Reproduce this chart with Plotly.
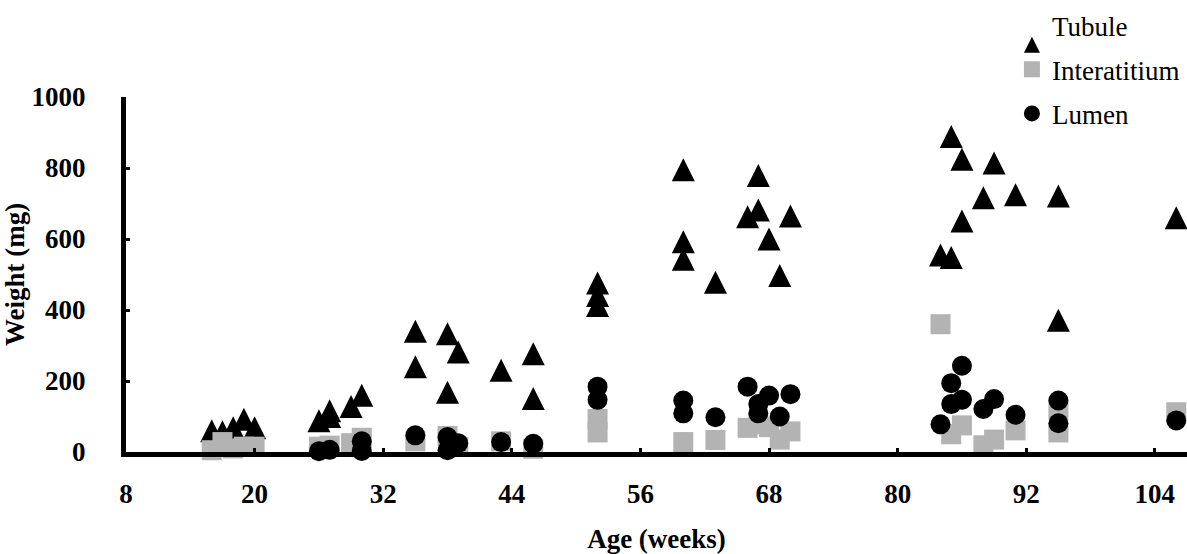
import plotly.graph_objects as go

# Tissue compartment weights (mg) by age (weeks)
tubule_age = [16, 17, 18, 19, 20, 26, 27, 27, 29, 30,
              35, 35, 38, 38, 39, 43, 46, 46,
              52, 52, 52, 60, 60, 60, 63,
              66, 67, 67, 68, 69, 70,
              84, 85, 85, 86, 86, 88, 89, 91, 95, 95, 106]
tubule_wt = [60, 57, 68, 92, 68, 88, 100, 116, 128, 160,
             340, 240, 333, 168, 282, 230, 277, 151,
             476, 441, 413, 795, 592, 543, 478,
             663, 779, 682, 600, 497, 665,
             555, 889, 548, 825, 651, 716, 814, 725, 721, 371, 660]

inter_age = [16, 17, 18, 19, 20, 26, 27, 29, 30,
             35, 38, 39, 43, 46, 52, 52, 60, 63,
             66, 67, 68, 69, 70,
             84, 85, 86, 88, 89, 91, 95, 95, 106]
inter_wt = [5, 28, 10, 15, 15, 15, 18, 25, 40,
            30, 45, 14, 30, 9, 93, 55, 28, 34,
            68, 78, 70, 35, 58,
            360, 50, 75, 19, 35, 61, 120, 55, 112]

lumen_age = [26, 27, 30, 30, 35, 38, 38, 39, 43, 46,
             52, 52, 60, 60, 63,
             66, 67, 67, 68, 69, 70,
             84, 85, 85, 86, 86, 88, 89, 91, 95, 95, 106]
lumen_wt = [2, 6, 30, 3, 47, 42, 5, 25, 28, 23,
            184, 147, 145, 109, 98,
            184, 135, 109, 159, 100, 163,
            78, 194, 135, 243, 147, 121, 149, 105, 145, 81, 89]

x_ticks = [8, 20, 32, 44, 56, 68, 80, 92, 104]
y_ticks = [0, 200, 400, 600, 800, 1000]

SERIF = "Liberation Serif, Times New Roman, serif"
TRI = 23

fig = go.Figure()
fig.add_trace(go.Scatter(
    x=tubule_age, y=tubule_wt, mode="markers", name="Tubule",
    legendgroup="a", cliponaxis=False,
    marker=dict(symbol="arrow-down", angle=180, standoff=TRI / 2,
                size=TRI, color="black", line=dict(width=0)),
))
fig.add_trace(go.Scatter(
    x=inter_age, y=inter_wt, mode="markers", name="Interatitium",
    legendgroup="b", cliponaxis=False,
    marker=dict(symbol="square", size=20, color="#b3b3b3", line=dict(width=0)),
))
fig.add_trace(go.Scatter(
    x=lumen_age, y=lumen_wt, mode="markers", name="Lumen",
    legendgroup="c", cliponaxis=False,
    marker=dict(symbol="circle", size=20, color="black", line=dict(width=0)),
))

tick_font = dict(family=SERIF, size=27, color="black", weight="bold")
title_font = dict(family=SERIF, size=27, color="black", weight="bold")

fig.update_layout(
    width=1187, height=554,
    margin=dict(l=126, r=0, t=97, b=102),
    paper_bgcolor="white", plot_bgcolor="white",
    font=dict(family=SERIF, color="black"),
    showlegend=True,
    legend=dict(
        x=0.835, xanchor="left", y=1.27, yanchor="top",
        font=dict(family=SERIF, size=27, color="black"),
        traceorder="grouped", tracegroupgap=6,
        bgcolor="rgba(0,0,0,0)",
    ),
    xaxis=dict(
        range=[8, 107.0], tickvals=x_ticks, ticktext=[str(v) for v in x_ticks],
        showgrid=False, zeroline=False,
        showline=True, linecolor="black", linewidth=5,
        ticks="inside", ticklen=4, tickwidth=3, tickcolor="black",
        tickfont=tick_font, ticklabelstandoff=14,
        title=dict(text="Age (weeks)", font=title_font, standoff=22),
    ),
    yaxis=dict(
        range=[0, 1000], tickvals=y_ticks, ticktext=[str(v) for v in y_ticks],
        showgrid=False, zeroline=False,
        showline=True, linecolor="black", linewidth=5,
        ticks="inside", ticklen=4, tickwidth=3, tickcolor="black",
        tickfont=tick_font, ticklabelstandoff=30,
        title=dict(text="Weight (mg)", font=title_font, standoff=4),
    ),
)

fig.write_html("out.html")
